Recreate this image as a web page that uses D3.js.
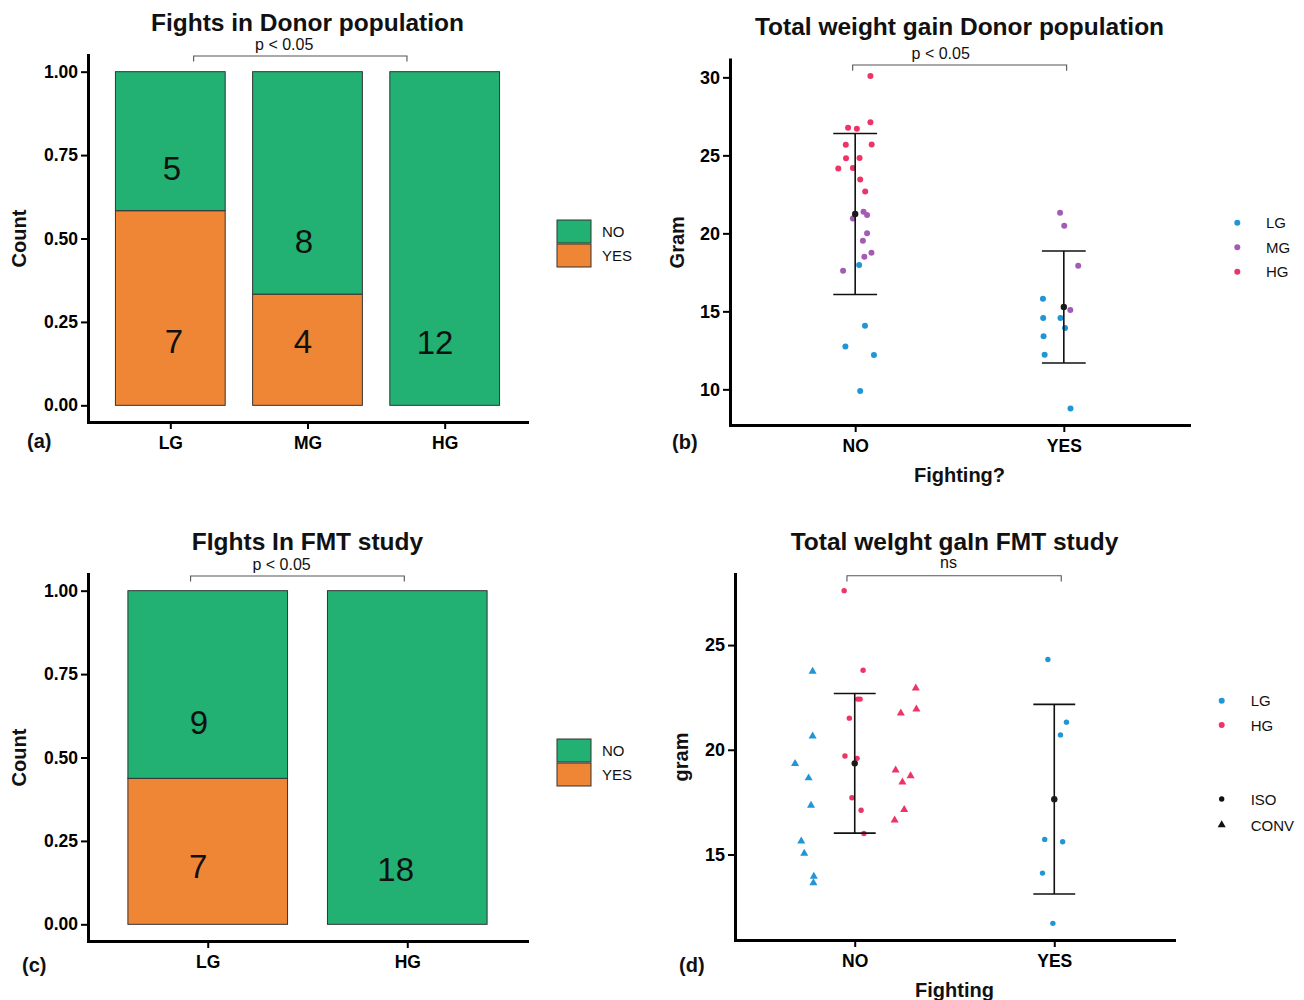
<!DOCTYPE html>
<html>
<head>
<meta charset="utf-8">
<script src="https://cdn.jsdelivr.net/npm/d3@7"></script>
<style>
  body { margin: 0; background: #fff; }
</style>
</head>
<body>
<div id="chart"></div>
<script>
// fights per weight-gain group (counts)
const donorGroups = ["LG", "MG", "HG"];
const donorNo = [5, 8, 12];
const donorYes = [7, 4, 0];

const fmtGroups = ["LG", "HG"];
const fmtNo = [9, 18];
const fmtYes = [7, 0];

const fightLevels = ["NO", "YES"];

// total weight gain, donor population: [group, gram, jitter]
const donorGainNO = [
  ["HG", 30.08, 0.073], ["HG", 27.12, 0.073], ["HG", 26.77, -0.034], ["HG", 26.71, 0.008],
  ["HG", 25.68, -0.045], ["HG", 25.70, 0.079], ["HG", 24.81, -0.044], ["HG", 24.83, 0.021],
  ["HG", 24.15, -0.081], ["HG", 24.19, -0.011], ["HG", 23.46, 0.024], ["HG", 22.69, 0.048],
  ["MG", 21.39, 0.040], ["MG", 21.18, 0.057], ["MG", 20.96, -0.011], ["MG", 20.00, 0.057],
  ["MG", 19.53, 0.037], ["MG", 18.50, 0.044], ["MG", 18.76, 0.078], ["MG", 17.61, -0.058],
  ["LG", 17.97, 0.019], ["LG", 14.08, 0.047], ["LG", 12.74, -0.047], ["LG", 12.20, 0.090],
  ["LG", 9.89, 0.024]
];
const donorGainYES = [
  ["MG", 21.32, -0.018], ["MG", 20.49, 0.002], ["MG", 17.93, 0.069], ["MG", 15.09, 0.031],
  ["LG", 15.81, -0.100], ["LG", 14.57, -0.099], ["LG", 14.57, -0.016], ["LG", 13.40, -0.097],
  ["LG", 13.93, 0.006], ["LG", 12.22, -0.092], ["LG", 8.78, 0.032]
];

// total weight gain, FMT study: [group, housing, gram, jitter]
const fmtGainNO = [
  ["LG", "CONV", 23.74, -0.211], ["LG", "CONV", 20.65, -0.211], ["LG", "CONV", 19.34, -0.299],
  ["LG", "CONV", 18.65, -0.231], ["LG", "CONV", 17.34, -0.219], ["LG", "CONV", 15.64, -0.268],
  ["LG", "CONV", 15.05, -0.253], ["LG", "CONV", 13.95, -0.205], ["LG", "CONV", 13.64, -0.207],
  ["HG", "ISO", 27.60, -0.053], ["HG", "ISO", 23.80, 0.042], ["HG", "ISO", 22.42, 0.015],
  ["HG", "ISO", 22.42, 0.027], ["HG", "ISO", 21.51, -0.027], ["HG", "ISO", 19.70, -0.049],
  ["HG", "ISO", 19.59, 0.012], ["HG", "ISO", 17.71, -0.014], ["HG", "ISO", 17.11, 0.032],
  ["HG", "ISO", 16.00, 0.046],
  ["HG", "CONV", 22.94, 0.306], ["HG", "CONV", 21.94, 0.309], ["HG", "CONV", 21.75, 0.231],
  ["HG", "CONV", 19.03, 0.205], ["HG", "CONV", 18.75, 0.280], ["HG", "CONV", 18.45, 0.239],
  ["HG", "CONV", 17.14, 0.248], ["HG", "CONV", 16.64, 0.200]
];
const fmtGainYES = [
  ["LG", "ISO", 24.31, -0.032], ["LG", "ISO", 21.32, 0.061], ["LG", "ISO", 20.71, 0.031],
  ["LG", "ISO", 15.72, -0.048], ["LG", "ISO", 15.61, 0.042], ["LG", "ISO", 14.11, -0.059],
  ["LG", "ISO", 11.71, -0.007]
];

// where the count labels sit in the bars (nudge in steps, height in fill units)
const donorLabelSpots = {
  NO: [[0.012, 0.712], [-0.026, 0.492], [-0.07, 0.189]],
  YES: [[0.027, 0.192], [-0.033, 0.192], null]
};
const fmtLabelSpots = {
  NO: [[-0.044, 0.607], [-0.058, 0.165]],
  YES: [[-0.048, 0.174], null]
};

const W = 1304, H = 1000;
const font = '"Liberation Sans", Arial, Helvetica, sans-serif';
const colFight = { NO: "#22B173", YES: "#EF8636" };
const colGrp = { LG: "#2196D6", MG: "#A35CB5", HG: "#EE3467" };

const svg = d3.select("#chart").append("svg")
  .attr("width", W).attr("height", H)
  .attr("font-family", font);

function styleAxis(ax, size) {
  ax.attr("font-family", font).attr("font-size", size).attr("font-weight", "bold");
  ax.select(".domain").attr("stroke", "#000").attr("stroke-width", 3).attr("stroke-linecap", "square");
  ax.selectAll(".tick line").attr("stroke", "#000").attr("stroke-width", 2);
  ax.selectAll(".tick text").attr("fill", "#000");
}

function addText(g, x, y, txt, size, opts) {
  opts = opts || {};
  const t = g.append("text")
    .attr("x", x).attr("y", y)
    .attr("font-size", size)
    .attr("font-weight", opts.bold ? "bold" : "normal")
    .attr("text-anchor", opts.anchor || "middle")
    .attr("fill", opts.fill || "#111")
    .text(txt);
  if (opts.rotate) t.attr("transform", "rotate(-90," + x + "," + y + ")");
  return t;
}

function bracket(g, xa, xb, yLine, yEnd, label, tx, ty) {
  g.append("path")
    .attr("d", "M" + xa + "," + yEnd + "V" + yLine + "H" + xb + "V" + yEnd)
    .attr("fill", "none").attr("stroke", "#555").attr("stroke-width", 1.1);
  addText(g, tx, ty, label, 16);
}

function fightBars(o) {
  const g = svg.append("g");
  const rows = o.groups.map((k, i) => ({ grp: k, YES: o.yes[i], NO: o.no[i] }));
  const series = d3.stack().keys(["YES", "NO"]).offset(d3.stackOffsetExpand)(rows);
  const x = d3.scalePoint().domain(o.groups).range([o.left, o.right]).padding(0.6);
  const y = d3.scaleLinear().domain([-0.05, 1.05]).range([o.bottom, o.top]);
  const bw = x.step() * 0.8;

  series.forEach(s => {
    g.append("g").selectAll("rect")
      .data(s.filter(d => d[1] > d[0]))
      .enter().append("rect")
      .attr("x", d => x(d.data.grp) - bw / 2)
      .attr("y", d => y(d[1]))
      .attr("width", bw)
      .attr("height", d => y(d[0]) - y(d[1]))
      .attr("fill", colFight[s.key])
      .attr("stroke", "#333").attr("stroke-width", 1);

    g.append("g").selectAll("text")
      .data(s.filter(d => d[1] > d[0]))
      .enter().append("text")
      .attr("x", d => x(d.data.grp) + o.spots[s.key][o.groups.indexOf(d.data.grp)][0] * x.step())
      .attr("y", d => y(o.spots[s.key][o.groups.indexOf(d.data.grp)][1]))
      .attr("dy", "0.36em")
      .attr("text-anchor", "middle")
      .attr("font-size", 33)
      .attr("fill", "#111")
      .text(d => d.data[s.key]);
  });

  const ya = g.append("g").attr("transform", "translate(" + o.left + ",0)")
    .call(d3.axisLeft(y).tickValues([0, 0.25, 0.5, 0.75, 1]).tickFormat(d3.format(".2f"))
      .tickSize(7).tickSizeOuter(0).tickPadding(3));
  styleAxis(ya, 17.5);

  const xa = g.append("g").attr("transform", "translate(0," + o.bottom + ")")
    .call(d3.axisBottom(x).tickSize(7).tickSizeOuter(0).tickPadding(8));
  styleAxis(xa, 17.5);

  addText(g, (o.left + o.right) / 2, o.top - 24.5, o.title, 24.5, { bold: true });
  addText(g, 26, (o.top + o.bottom) / 2, "Count", 20, { bold: true, rotate: true });
  addText(g, o.tagX, o.bottom + o.tagDy, o.tag, 20, { bold: true, anchor: "start" });

  const x0 = x(o.groups[0]), st = x.step();
  bracket(g, x0 + o.br[0] * st, x0 + o.br[1] * st, o.top + o.br[3], o.top + o.br[3] + 5.5,
    "p < 0.05", x0 + o.br[2] * st, o.top + o.br[3] - 6);

  // legend
  const lg = g.append("g");
  ["NO", "YES"].forEach((k, i) => {
    lg.append("rect").attr("x", 557).attr("y", o.top + 165 + i * 24)
      .attr("width", 34).attr("height", 23)
      .attr("fill", colFight[k]).attr("stroke", "#333").attr("stroke-width", 1);
    addText(lg, 602, o.top + 165 + i * 24 + 17, k, 15, { anchor: "start" });
  });
}

function gainDots(o) {
  const g = svg.append("g");
  const pts = [];
  o.sets.forEach((rows, k) => rows.forEach(r => {
    const house = r.length === 4 ? r[1] : "ISO";
    pts.push({ fight: fightLevels[k], grp: r[0], house: house, gram: r[r.length - 2], jit: r[r.length - 1] });
  }));
  const ext = d3.extent(pts, d => d.gram);
  const pad = (ext[1] - ext[0]) * 0.05;
  const x = d3.scalePoint().domain(fightLevels).range([o.left, o.right]).padding(0.6);
  const y = d3.scaleLinear().domain([ext[0] - pad, ext[1] + pad]).range([o.bottom, o.top]);
  const st = x.step();

  const circ = pts.filter(d => d.house === "ISO");
  const tri = pts.filter(d => d.house === "CONV");
  g.append("g").selectAll("circle").data(circ).enter().append("circle")
    .attr("cx", d => x(d.fight) + d.jit * st)
    .attr("cy", d => y(d.gram))
    .attr("r", o.r)
    .attr("fill", d => colGrp[d.grp]);
  g.append("g").selectAll("path").data(tri).enter().append("path")
    .attr("d", d3.symbol(d3.symbolTriangle, 28))
    .attr("transform", d => "translate(" + (x(d.fight) + d.jit * st) + "," + y(d.gram) + ")")
    .attr("fill", d => colGrp[d.grp]);

  // mean +/- sd
  const stats = fightLevels.map(f => {
    const v = pts.filter(d => d.fight === f).map(d => d.gram);
    return { fight: f, m: d3.mean(v), sd: d3.deviation(v) };
  });
  const cap = st * 0.105;
  const eb = g.append("g").attr("stroke", "#111").attr("stroke-width", 1.6);
  stats.forEach(s => {
    const cx = x(s.fight);
    eb.append("line").attr("x1", cx).attr("x2", cx).attr("y1", y(s.m - s.sd)).attr("y2", y(s.m + s.sd));
    eb.append("line").attr("x1", cx - cap).attr("x2", cx + cap).attr("y1", y(s.m - s.sd)).attr("y2", y(s.m - s.sd));
    eb.append("line").attr("x1", cx - cap).attr("x2", cx + cap).attr("y1", y(s.m + s.sd)).attr("y2", y(s.m + s.sd));
  });
  g.append("g").selectAll("circle").data(stats).enter().append("circle")
    .attr("cx", d => x(d.fight)).attr("cy", d => y(d.m)).attr("r", 3.2).attr("fill", "#1a1a1a");

  const ya = g.append("g").attr("transform", "translate(" + o.left + ",0)")
    .call(d3.axisLeft(y).tickValues(o.yTicks).tickSize(7).tickSizeOuter(0).tickPadding(3));
  styleAxis(ya, 18);
  const xa = g.append("g").attr("transform", "translate(0," + o.bottom + ")")
    .call(d3.axisBottom(x).tickSize(7).tickSizeOuter(0).tickPadding(8));
  styleAxis(xa, 17.5);

  addText(g, (o.left + o.right) / 2, o.titleY, o.title, 24.5, { bold: true });
  addText(g, o.yLabX, (o.top + o.bottom) / 2, o.yLab, 20, { bold: true, rotate: true });
  addText(g, (o.left + o.right) / 2, o.bottom + o.xLabDy, o.xLab, 20, { bold: true });
  addText(g, o.tagX, o.bottom + o.tagDy, o.tag, 20, { bold: true, anchor: "start" });

  const x0 = x(fightLevels[0]);
  bracket(g, x0 + o.br[0] * st, x0 + o.br[1] * st, o.brY, o.brY + 5.8, o.sig, x0 + o.br[2] * st, o.brTextY);

  // legend
  const lg = g.append("g");
  o.legend.forEach(it => {
    if (it.shape === "tri") {
      lg.append("path").attr("d", d3.symbol(d3.symbolTriangle, 28))
        .attr("transform", "translate(" + it.x + "," + it.y + ")").attr("fill", it.col);
    } else {
      lg.append("circle").attr("cx", it.x).attr("cy", it.y).attr("r", it.r || 3).attr("fill", it.col);
    }
    addText(lg, it.tx, it.y + 5.5, it.label, 15, { anchor: "start" });
  });
}

// (a)
fightBars({
  groups: donorGroups, no: donorNo, yes: donorYes, spots: donorLabelSpots,
  left: 88, right: 527, top: 55, bottom: 422,
  title: "Fights in Donor population", tag: "(a)", tagX: 27, tagDy: 25.5,
  br: [0.17, 1.725, 0.83, 1]
});

// (c)
fightBars({
  groups: fmtGroups, no: fmtNo, yes: fmtYes, spots: fmtLabelSpots,
  left: 88, right: 527, top: 574, bottom: 941,
  title: "FIghts In FMT study", tag: "(c)", tagX: 22, tagDy: 31,
  br: [-0.086, 0.985, 0.37, 2]
});

// (b)
gainDots({
  sets: [donorGainNO, donorGainYES],
  left: 730, right: 1189, top: 59.5, bottom: 425, r: 3,
  yTicks: [10, 15, 20, 25, 30],
  title: "Total weight gain Donor population", titleY: 34.5,
  yLab: "Gram", yLabX: 684, xLab: "Fighting?", xLabDy: 56.5,
  tag: "(b)", tagX: 672, tagDy: 24,
  br: [-0.012, 1.0135, 0.41], brY: 65, brTextY: 59.3, sig: "p < 0.05",
  legend: [
    { x: 1237.3, y: 222.7, col: colGrp.LG, label: "LG", tx: 1266 },
    { x: 1237.3, y: 247.3, col: colGrp.MG, label: "MG", tx: 1266 },
    { x: 1237.3, y: 271.7, col: colGrp.HG, label: "HG", tx: 1266 }
  ]
});

// (d)
gainDots({
  sets: [fmtGainNO, fmtGainYES],
  left: 735, right: 1174, top: 574, bottom: 940, r: 2.7,
  yTicks: [15, 20, 25],
  title: "Total weIght gaIn FMT study", titleY: 550,
  yLab: "gram", yLabX: 688, xLab: "Fighting", xLabDy: 56.5,
  tag: "(d)", tagX: 679, tagDy: 32,
  br: [-0.039, 1.035, 0.47], brY: 575.7, brTextY: 568, sig: "ns",
  legend: [
    { x: 1221.7, y: 700.7, col: colGrp.LG, label: "LG", tx: 1250.7 },
    { x: 1221.7, y: 725, col: colGrp.HG, label: "HG", tx: 1250.7 },
    { x: 1221.7, y: 799, col: "#111", label: "ISO", tx: 1250.7, r: 2.7 },
    { x: 1221.7, y: 825, col: "#111", label: "CONV", tx: 1250.7, shape: "tri" }
  ]
});
</script>
</body>
</html>
